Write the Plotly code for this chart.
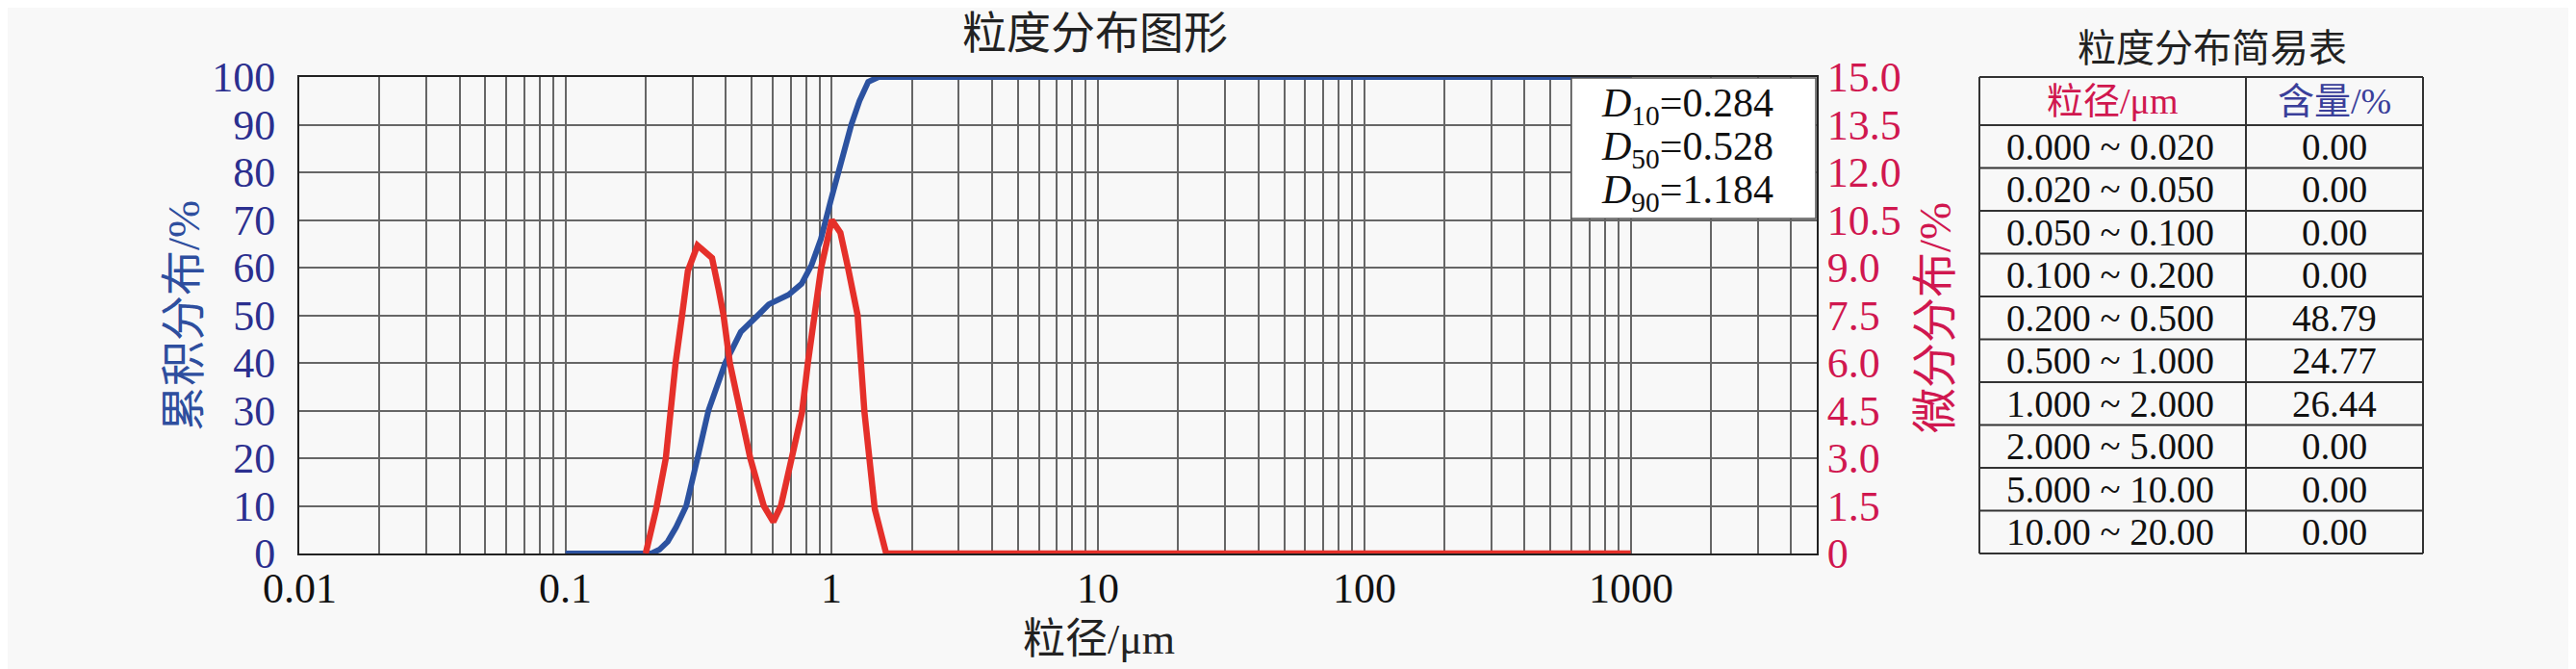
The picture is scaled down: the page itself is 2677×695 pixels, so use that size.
import math
import plotly.graph_objects as go

# ---------------- data ----------------
# differential distribution (right axis, %)
red_x = [0.2, 0.219, 0.238, 0.248, 0.259, 0.274, 0.288, 0.313, 0.355, 0.376, 0.392,
         0.414, 0.455, 0.494, 0.555, 0.603, 0.644, 0.711, 0.773, 0.813, 0.861, 0.912,
         1.0, 1.077, 1.15, 1.25, 1.326, 1.39, 1.45, 1.6, 1000]
red_y = [0.0, 1.4, 3.0, 4.5, 6.0, 7.5, 8.9, 9.7, 9.3, 8.3, 7.5,
         6.0, 4.45, 3.0, 1.5, 1.0, 1.5, 3.0, 4.45, 6.0, 7.5, 9.0,
         10.5, 10.1, 9.0, 7.5, 4.45, 3.0, 1.4, 0.0, 0.0]

# cumulative distribution (left axis, %)
blue_x = [0.1, 0.21, 0.225, 0.242, 0.26, 0.284, 0.313, 0.344, 0.398, 0.455, 0.528,
          0.58, 0.688, 0.77, 0.84, 0.91, 0.99, 1.08, 1.184, 1.27, 1.37, 1.5, 1000]
blue_y = [0, 0, 0.8, 2.5, 5.5, 10, 20, 30, 40, 46.5, 50,
          52.3, 54.3, 56.6, 60.6, 66, 74, 82, 90, 95, 99, 100, 100]

x_tick_vals = [0.01, 0.1, 1, 10, 100, 1000]
x_tick_text = ["0.01", "0.1", "1", "10", "100", "1000"]
left_tick_vals = [0, 10, 20, 30, 40, 50, 60, 70, 80, 90, 100]
right_tick_vals = [0, 1.5, 3.0, 4.5, 6.0, 7.5, 9.0, 10.5, 12.0, 13.5, 15.0]
right_tick_text = ["0", "1.5", "3.0", "4.5", "6.0", "7.5", "9.0", "10.5", "12.0", "13.5", "15.0"]

d_names = ["10", "50", "90"]
d_values = ["0.284", "0.528", "1.184"]

table_ranges = ["0.000 ~ 0.020", "0.020 ~ 0.050", "0.050 ~ 0.100", "0.100 ~ 0.200",
                "0.200 ~ 0.500", "0.500 ~ 1.000", "1.000 ~ 2.000", "2.000 ~ 5.000",
                "5.000 ~ 10.00", "10.00 ~ 20.00"]
table_content = ["0.00", "0.00", "0.00", "0.00", "48.79", "24.77", "26.44", "0.00", "0.00", "0.00"]

# ---------------- layout helpers ----------------
W_FIG, H_FIG = 2677, 695
L, R, T, B = 303, 1880, 72, 567
PW, PH = R - L, B - T

def px(xp):
    return (xp - L) / PW

def py(yp):
    return (B - yp) / PH

FAM = "Liberation Serif, Noto Sans CJK SC, serif"
BG = "#F8F8F8"
GRID = "#666666"
NAVY = "#2B2F8F"
CRIMSON = "#D0174F"
BLUE = "#2C52A0"
RED = "#E5302A"

minor_vals = [m * 10 ** e for e in range(-2, 4) for m in range(2, 10) if m * 10 ** e <= 5000]

fig = go.Figure()
fig.add_trace(go.Scatter(x=red_x, y=red_y, mode="lines", yaxis="y2",
                         line=dict(color=RED, width=6.5), showlegend=False))
fig.add_trace(go.Scatter(x=blue_x, y=blue_y, mode="lines", yaxis="y",
                         line=dict(color=BLUE, width=6), showlegend=False))

annotations = []
shapes = []

# x tick labels placed on the x axis scale
for v, t in zip(x_tick_vals, x_tick_text):
    annotations.append(dict(text=t, x=math.log10(v), xref="x", y=py(603), yref="paper",
                            showarrow=False, font=dict(family=FAM, size=44, color="#111"),
                            xanchor="center", yanchor="middle"))

# chart title & axis titles
annotations.append(dict(text="粒度分布图形", x=px(1130), y=py(26), xref="paper", yref="paper",
                        showarrow=False, font=dict(family=FAM, size=46, color="#222"),
                        xanchor="center", yanchor="middle"))
annotations.append(dict(text="粒径/μm", x=px(1134), y=py(656), xref="paper", yref="paper",
                        showarrow=False, font=dict(family=FAM, size=44, color="#222"),
                        xanchor="center", yanchor="middle"))
annotations.append(dict(text="累积分布/%", x=px(183), y=py(320), xref="paper", yref="paper",
                        showarrow=False, textangle=-90,
                        font=dict(family=FAM, size=47, color="#2E4E9E"),
                        xanchor="center", yanchor="middle"))
annotations.append(dict(text="微分分布/%", x=px(2003), y=py(322), xref="paper", yref="paper",
                        showarrow=False, textangle=-90,
                        font=dict(family=FAM, size=47, color=CRIMSON),
                        xanchor="center", yanchor="middle"))

# D-value box
shapes.append(dict(type="rect", xref="paper", yref="paper", x0=px(1625), x1=px(1879),
                   y0=py(219), y1=py(73), fillcolor="#FFFFFF",
                   line=dict(color="#555", width=1.5), layer="above"))
for i, (n, v) in enumerate(zip(d_names, d_values)):
    annotations.append(dict(text=f"<i>D</i><sub>{n}</sub>={v}", x=px(1654), y=py(102 + 45 * i),
                            xref="paper", yref="paper", showarrow=False,
                            font=dict(family=FAM, size=42, color="#111"),
                            xanchor="left", yanchor="middle"))

# simple table
TL, TM, TR = 2049, 2326, 2510
T_TOP, T_HEAD = 72, 122
ROW_H = (567 - T_HEAD) / len(table_ranges)
annotations.append(dict(text="粒度分布简易表", x=px(2291), y=py(42), xref="paper", yref="paper",
                        showarrow=False, font=dict(family=FAM, size=40, color="#222"),
                        xanchor="center", yanchor="middle"))
annotations.append(dict(text="粒径/μm", x=px((TL + TM) / 2), y=py(97), xref="paper", yref="paper",
                        showarrow=False, font=dict(family=FAM, size=38, color=CRIMSON),
                        xanchor="center", yanchor="middle"))
annotations.append(dict(text="含量/%", x=px((TM + TR) / 2), y=py(97), xref="paper", yref="paper",
                        showarrow=False, font=dict(family=FAM, size=38, color="#3A3F9A"),
                        xanchor="center", yanchor="middle"))
for i, (rg, ct) in enumerate(zip(table_ranges, table_content)):
    yc = T_HEAD + ROW_H * (i + 0.5)
    annotations.append(dict(text=rg, x=px((TL + TM) / 2 - 3), y=py(yc), xref="paper", yref="paper",
                            showarrow=False, font=dict(family=FAM, size=39, color="#111"),
                            xanchor="center", yanchor="middle"))
    annotations.append(dict(text=ct, x=px((TM + TR) / 2), y=py(yc), xref="paper", yref="paper",
                            showarrow=False, font=dict(family=FAM, size=39, color="#111"),
                            xanchor="center", yanchor="middle"))

row_lines = [T_TOP, T_HEAD] + [T_HEAD + ROW_H * (i + 1) for i in range(len(table_ranges))]
for yl in row_lines:
    shapes.append(dict(type="line", xref="paper", yref="paper", x0=px(TL), x1=px(TR),
                       y0=py(yl), y1=py(yl), line=dict(color="#333", width=2)))
for xl in [TL, TM, TR]:
    shapes.append(dict(type="line", xref="paper", yref="paper", x0=px(xl), x1=px(xl),
                       y0=py(T_TOP), y1=py(567), line=dict(color="#333", width=2)))

fig.update_layout(
    width=W_FIG, height=H_FIG, autosize=False,
    margin=dict(l=L, r=W_FIG - R, t=T, b=H_FIG - B, pad=0),
    paper_bgcolor=BG, plot_bgcolor=BG,
    showlegend=False,
    xaxis=dict(type="log", range=[-2, math.log10(5000)],
               tickvals=x_tick_vals, ticktext=x_tick_text, ticks="", showticklabels=False,
               showgrid=True, gridcolor=GRID, gridwidth=1.6,
               minor=dict(tickvals=minor_vals, showgrid=True, gridcolor=GRID, gridwidth=1.6, ticks=""),
               showline=True, mirror=True, linecolor="#222", linewidth=2,
               zeroline=False),
    yaxis=dict(range=[0, 100], tickvals=left_tick_vals, ticks="",
               tickfont=dict(family=FAM, size=44, color=NAVY),
               showgrid=True, gridcolor=GRID, gridwidth=1.6,
               showline=True, mirror=True, linecolor="#222", linewidth=2,
               zeroline=False, ticklabelstandoff=14),
    yaxis2=dict(range=[0, 15], overlaying="y", side="right",
                tickvals=right_tick_vals, ticktext=right_tick_text, ticks="",
                tickfont=dict(family=FAM, size=44, color=CRIMSON),
                showgrid=False, showline=True, linecolor="#222", linewidth=2,
                zeroline=False, ticklabelstandoff=0),
    annotations=annotations,
    shapes=shapes,
)

fig.write_html("out.html")
